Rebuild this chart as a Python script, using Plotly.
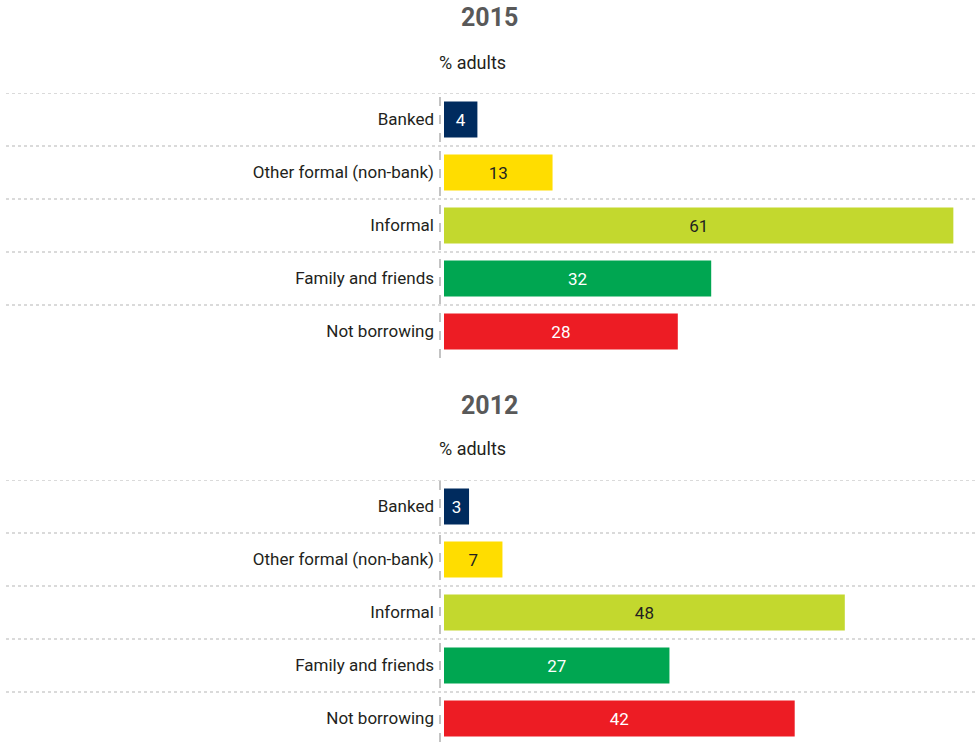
import plotly.graph_objects as go
from plotly.subplots import make_subplots

# Sources of borrowing, % of adults
categories = ["Banked", "Other formal (non-bank)", "Informal", "Family and friends", "Not borrowing"]
values_2015 = [4, 13, 61, 32, 28]
values_2012 = [3, 7, 48, 27, 42]
bar_colors = ["#002B5E", "#FFDD00", "#C3D82E", "#00A651", "#ED1C24"]
text_colors = ["#FFFFFF", "#231F20", "#231F20", "#FFFFFF", "#FFFFFF"]

W, H = 978, 742
FONT = "Roboto, Arial, sans-serif"

fig = make_subplots(rows=2, cols=1)

def py(p):
    """pixel row -> paper y"""
    return 1 - p / H

def px(p):
    return p / W

x_left = 444
px_per_unit = 8.35
x_max = (W - x_left) / px_per_unit
row_h = 53

panels = [
    (1, values_2015, "2015", 93, 358),
    (2, values_2012, "2012", 480, H),
]

for row, vals, year, top, bottom in panels:
    fig.add_trace(
        go.Bar(
            x=vals,
            y=list(range(len(categories))),
            orientation="h",
            width=0.68,
            marker=dict(color=bar_colors, line=dict(width=0)),
            text=[str(v) for v in vals],
            textposition="inside",
            insidetextanchor="middle",
            textangle=0,
            constraintext="none",
            textfont=dict(family=FONT, size=17, color=text_colors),
            hoverinfo="skip",
            showlegend=False,
        ),
        row=row, col=1,
    )
    n_rows_visible = (bottom - top) / row_h
    yname = "yaxis" if row == 1 else "yaxis2"
    xname = "xaxis" if row == 1 else "xaxis2"
    fig.layout[yname].update(
        domain=[py(bottom), py(top)],
        range=[-0.5 + n_rows_visible, -0.5],
        tickvals=list(range(len(categories))),
        ticktext=categories,
        tickfont=dict(family=FONT, size=17, color="#231F20"),
        ticks="",
        showgrid=False,
        zeroline=False,
        showline=False,
        ticklabelstandoff=9,
    )
    fig.layout[xname].update(
        domain=[px(x_left), 1],
        range=[0, x_max],
        visible=False,
    )
    yref = "y" if row == 1 else "y2"
    # dotted separators between rows
    n_lines = int(round(n_rows_visible)) + 1
    for k in range(n_lines):
        yv = -0.5 + k
        if yv > -0.5 + n_rows_visible - 0.05:
            continue
        fig.add_shape(
            type="line", xref="paper", yref=yref,
            x0=px(6), x1=px(975), y0=yv, y1=yv,
            line=dict(color="#B5B5B5", width=1, dash="dot"),
            layer="below",
        )
    # dashed baseline
    fig.add_shape(
        type="line", xref="paper", yref="paper",
        x0=px(440), x1=px(440), y0=py(bottom), y1=py(top),
        line=dict(color="#B0B0B0", width=1.5, dash="dash"),
        layer="below",
    )
    fig.add_annotation(
        x=px(489), y=py(top - 75), xref="paper", yref="paper",
        text="<b>" + year + "</b>", showarrow=False,
        font=dict(family=FONT, size=25, color="#595959"),
        xanchor="center", yanchor="middle",
    )
    fig.add_annotation(
        x=px(472), y=py(top - 31), xref="paper", yref="paper",
        text="% adults", showarrow=False,
        font=dict(family=FONT, size=18, color="#231F20"),
        xanchor="center", yanchor="middle",
    )

fig.update_layout(
    width=W, height=H,
    margin=dict(l=0, r=0, t=0, b=0),
    paper_bgcolor="white",
    plot_bgcolor="white",
    bargap=0.32,
)

fig.write_html("out.html")
